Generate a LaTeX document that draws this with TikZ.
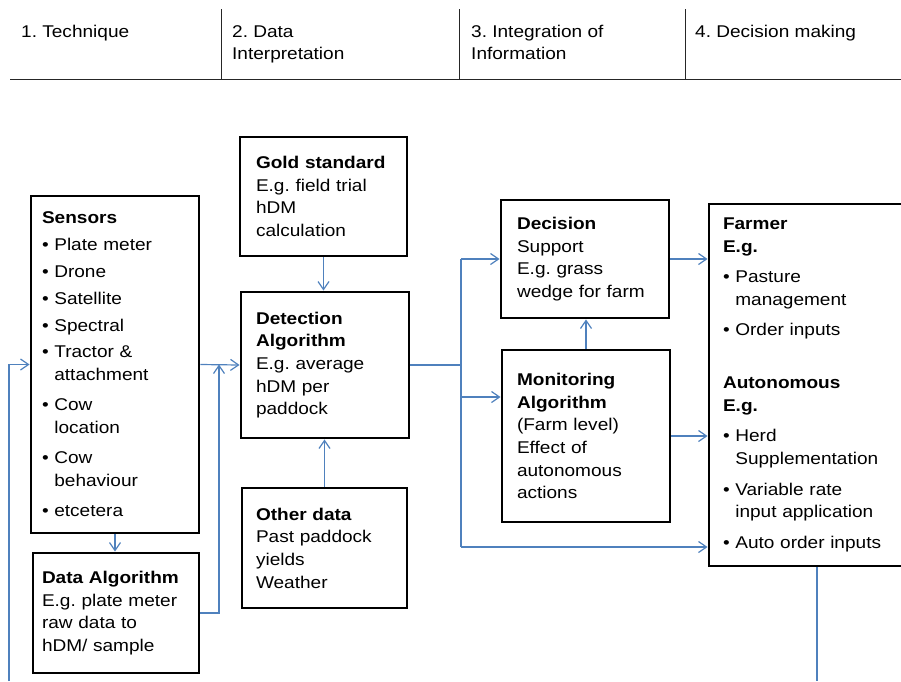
\documentclass[tikz,border=0pt]{standalone}
\usepackage{fontspec}
\setmainfont[FakeStretch=1.12]{Liberation Sans}
\usetikzlibrary{arrows.meta}
\definecolor{conncol}{RGB}{79,129,189}
\newcommand\bl{\textbullet\ }
\newcommand\ind{\phantom{\textbullet\ }}
\frenchspacing
\begin{document}
\frenchspacing
\begin{tikzpicture}[x=1pt,y=-1pt,
  box/.style={draw, line width=2.9pt, inner ysep=0pt, align=left,
    font=\frenchspacing\fontsize{17}{22.7}\selectfont},
  conn/.style={draw=conncol, line width=1.2pt, -{Straight Barb[length=8pt,width=11pt]}},
  plain/.style={draw=conncol, line width=1.2pt},
  hdrtext/.style={inner sep=0pt, align=left, font=\frenchspacing\fontsize{17}{22}\selectfont},
  hdrline/.style={draw=black!85, line width=0.9pt}]
\useasboundingbox (0,0) rectangle (901,681);
\clip (0,0) rectangle (901,681);

% header
\draw[hdrline] (221,9) -- (221,79);
\draw[hdrline] (459,9) -- (459,79);
\draw[hdrline] (685,9) -- (685,79);
\draw[draw=black!85, line width=1.4pt] (10,79.5) -- (901,79.5);
\node[hdrtext, anchor=north west] (h1) at (21,25) {1. Technique};
\node[hdrtext, anchor=north west] (h2) at (232,25) {2. Data\\Interpretation};
\node[hdrtext, anchor=north west] (h3) at (471,25) {3. Integration of\\Information};
\node[hdrtext, anchor=north west] (h4) at (695,25) {4. Decision making};

% boxes
\node[box, minimum width=168pt, minimum height=337pt, text width=146pt, inner xsep=11pt] (sens) at (115,364.5) {%
\textbf{Sensors}\\[4pt]
\bl Plate meter\\[4pt]
\bl Drone\\[4.5pt]
\bl Satellite\\[4pt]
\bl Spectral\\[4pt]
\bl Tractor \&\\
\ind attachment\\[7.3pt]
\bl Cow\\
\ind location\\[7.3pt]
\bl Cow\\
\ind behaviour\\[8pt]
\bl etcetera};

\node[box, minimum width=166pt, minimum height=120pt, text width=148pt, inner xsep=9pt] (dalg) at (116,613) {%
\textbf{Data Algorithm}\\
E.g. plate meter\\
raw data to\\
hDM/ sample};

\node[box, minimum width=167pt, minimum height=119pt, text width=135pt, inner xsep=16pt] (gold) at (323.5,196.5) {%
\textbf{Gold standard}\\
E.g. field trial\\
hDM\\
calculation};

\node[box, minimum width=168pt, minimum height=146pt, text width=138pt, inner xsep=15pt] (det) at (325,365) {%
\textbf{Detection}\\
\textbf{Algorithm}\\
E.g. average\\
hDM per\\
paddock};

\node[box, minimum width=165pt, minimum height=120pt, text width=137pt, inner xsep=14pt] (other) at (324.5,548) {%
\textbf{Other data}\\
Past paddock\\
yields\\
Weather};

\node[box, minimum width=168pt, minimum height=118pt, text width=136pt, inner xsep=16pt] (dec) at (585,259) {%
\textbf{Decision}\\
Support\\
E.g. grass\\
wedge for farm};

\node[box, minimum width=168pt, minimum height=172pt, text width=138pt, inner xsep=15pt] (mon) at (586,436) {%
\textbf{Monitoring}\\
\textbf{Algorithm}\\
(Farm level)\\
Effect of\\
autonomous\\
actions};

\node[box, minimum width=200pt, minimum height=362pt, text width=172pt, inner xsep=14pt] (farm) at (809,385) {%
\textbf{Farmer}\\
\textbf{E.g.}\\[7.5pt]
\bl Pasture\\
\ind management\\[7.5pt]
\bl Order inputs\\[30.3pt]
\textbf{Autonomous}\\
\textbf{E.g.}\\[8pt]
\bl Herd\\
\ind Supplementation\\[8pt]
\bl Variable rate\\
\ind input application\\[8pt]
\bl Auto order inputs};

% connector points
\coordinate (fbl) at (9,681);
\coordinate (fbr) at (817,681);
\coordinate (j1) at (219,364.5);
\coordinate (bt) at (461,259);
\coordinate (bm) at (461,397);
\coordinate (bb) at (461,547);

% connectors
\draw[conn] (fbl) |- (sens.west);
\draw[plain] (fbr |- farm.south) -- (fbr);
\draw[conn] (sens.east) -- (det.west);
\draw[conn] (sens.south) -- (sens.south |- dalg.north);
\draw[conn] (dalg.east) -| (j1);
\draw[conn] (gold.south) -- (gold.south |- det.north);
\draw[conn] (other.north) -- (other.north |- det.south);
\draw[plain] (det.east) -- (det.east -| bt);
\draw[plain] (bt) -- (bb);
\draw[conn] (bt) -- (bt -| dec.west);
\draw[conn] (bm) -- (bm -| mon.west);
\draw[conn] (bb) -- (bb -| farm.west);
\draw[conn] (mon.north) -- (mon.north |- dec.south);
\draw[conn] (dec.east) -- (dec.east -| farm.west);
\draw[conn] (mon.east) -- (mon.east -| farm.west);
\end{tikzpicture}
\end{document}
